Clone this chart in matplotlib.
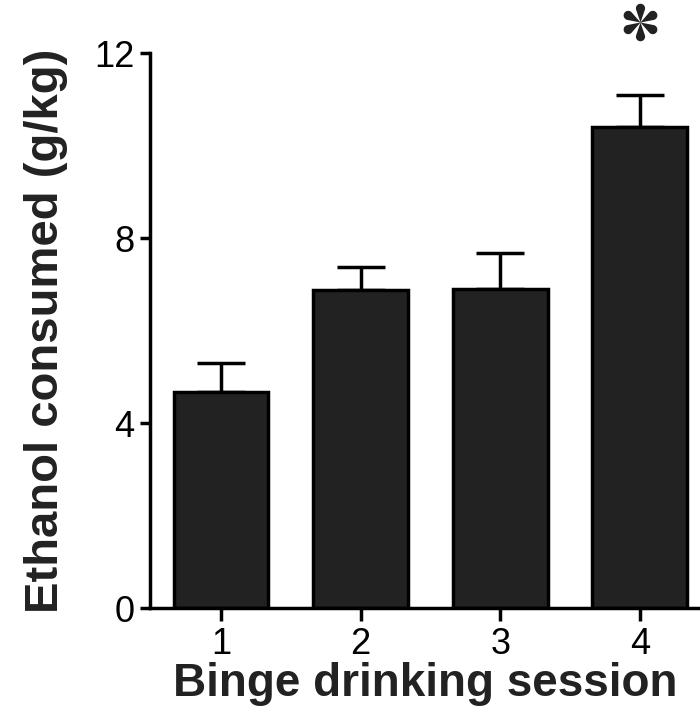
import numpy as np
import matplotlib.pyplot as plt
from matplotlib.path import Path

plt.rcParams['font.family'] = ['Liberation Sans', 'DejaVu Sans']

# data
sessions = [1, 2, 3, 4]
ethanol = [4.67, 6.88, 6.90, 10.40]
sem = [0.63, 0.50, 0.78, 0.69]
yticks = [0, 4, 8, 12]


def asterisk_marker(n=6, d=0.74, r=0.24):
    # six teardrop petals, one pointing straight up
    a = np.arcsin(r / d)
    ang = np.linspace(np.pi / 2 + a, -(np.pi / 2 + a), 40)
    petal = np.vstack([[0, 0], np.c_[d + r * np.cos(ang), r * np.sin(ang)], [0, 0]])
    paths = []
    for k in range(n):
        th = np.pi / 2 + k * 2 * np.pi / n
        rot = np.array([[np.cos(th), -np.sin(th)], [np.sin(th), np.cos(th)]])
        paths.append(Path(petal @ rot.T, closed=True))
    return Path.make_compound_path(*paths)


fig = plt.figure(figsize=(7, 7.17), dpi=100)
ax = fig.add_axes([0.214, 0.152, 0.786, 0.774])

ax.bar(sessions, ethanol, width=0.68, color='#222222', edgecolor='black',
       linewidth=2.5, zorder=2)
ax.errorbar(sessions, ethanol, yerr=[np.zeros(4), sem], fmt='none',
            ecolor='black', elinewidth=2.5, capsize=17, capthick=2.5, zorder=1)

# significance marker
ax.plot(4, ethanol[3] + sem[3] + 1.58, marker=asterisk_marker(), markersize=27,
        color='#222222', markeredgewidth=0, clip_on=False)

ax.set_xlim(0.49, 4.43)
ax.set_ylim(0, 12)
ax.set_xticks(sessions)
ax.set_yticks(yticks)
ax.tick_params(labelsize=26, width=2.5, pad=4)
ax.tick_params(axis='x', length=9, pad=5)
ax.tick_params(axis='y', length=7)
for s in ['top', 'right']:
    ax.spines[s].set_visible(False)
for s in ['left', 'bottom']:
    ax.spines[s].set_linewidth(2.5)

ax.set_xlabel('Binge drinking session', fontsize=33, fontweight='bold',
              color='#222222', labelpad=0)
ax.set_ylabel('Ethanol consumed (g/kg)', fontsize=34, fontweight='bold',
              color='#222222', labelpad=19)

fig.savefig('out.png', dpi=100)
